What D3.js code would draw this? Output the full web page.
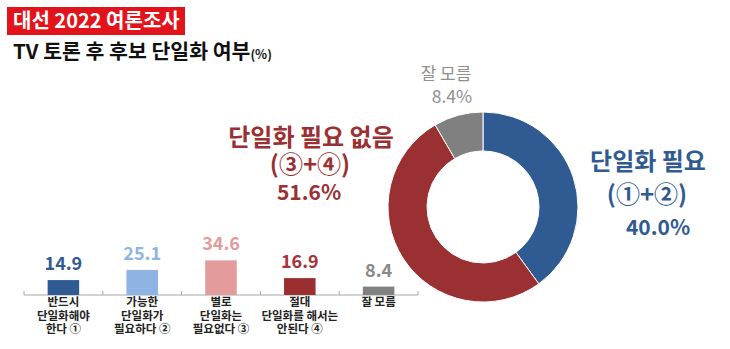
<!DOCTYPE html>
<html>
<head>
<meta charset="utf-8">
<script src="https://cdn.jsdelivr.net/npm/d3@7"></script>
<style>
  html, body { margin: 0; padding: 0; background: #fff; }
  svg { display: block; font-family: "Noto Sans CJK KR", "Noto Sans", sans-serif; }
</style>
</head>
<body>
<svg id="chart" width="730" height="349"></svg>
<script>
// Detailed answers (bar chart)
const categories = [
  ["반드시", "단일화해야", "한다 ①"],
  ["가능한", "단일화가", "필요하다 ②"],
  ["별로", "단일화는", "필요없다 ③"],
  ["절대", "단일화를 해서는", "안된다 ④"],
  ["잘 모름"]
];
const values = [14.9, 25.1, 34.6, 16.9, 8.4];
const barColors = ["#2f5a92", "#8db4e3", "#e39b9c", "#9b2f30", "#808080"];
const labelColors = ["#2f5a92", "#8db4e3", "#e39b9c", "#a83236", "#888888"];

// Grouped answers (donut)
const groupNames = ["단일화 필요", "단일화 필요 없음", "잘 모름"];
const groupSubs = ["(①+②)", "(③+④)", ""];
const groupValues = [40.0, 51.6, 8.4];
const groupColors = ["#2f5a92", "#9b3033", "#808080"];

const svg = d3.select("#chart");

// Header
svg.append("rect").attr("x", 7).attr("y", 7).attr("width", 178).attr("height", 28).attr("fill", "#e3131b");
svg.append("text").attr("x", 13).attr("y", 28).attr("fill", "#fff")
  .attr("font-size", 20).attr("font-weight", 700).text("대선 2022 여론조사");
const sub = svg.append("text").attr("x", 13).attr("y", 59).attr("fill", "#111")
  .attr("font-size", 20.5).attr("font-weight", 700);
sub.append("tspan").text("TV 토론 후 후보 단일화 여부");
sub.append("tspan").attr("font-size", 12.5).text("(%)");

// Bar chart
const baseY = 295;
const x = d3.scaleBand().domain(d3.range(values.length)).range([24, 418]).paddingInner(0.6).paddingOuter(0.3);
const y = d3.scaleLinear().domain([0, 40]).range([baseY, baseY - 40]);

const axis = svg.append("g");
axis.append("line").attr("x1", 24).attr("x2", 418).attr("y1", baseY).attr("y2", baseY)
  .attr("stroke", "#a6a6a6").attr("stroke-width", 1);
const tickXs = d3.range(values.length + 1).map(i => 24 + i * (394 / values.length));
axis.selectAll("line.tick").data(tickXs).join("line").attr("class", "tick")
  .attr("x1", d => d).attr("x2", d => d).attr("y1", baseY - 4).attr("y2", baseY)
  .attr("stroke", "#a6a6a6");

svg.selectAll("rect.bar").data(values).join("rect").attr("class", "bar")
  .attr("x", (d, i) => x(i)).attr("width", x.bandwidth())
  .attr("y", d => y(d)).attr("height", d => baseY - y(d))
  .attr("fill", (d, i) => barColors[i]);

svg.selectAll("text.val").data(values).join("text").attr("class", "val")
  .attr("x", (d, i) => x(i) + x.bandwidth() / 2).attr("y", d => y(d) - 10)
  .attr("text-anchor", "middle").attr("font-size", 18).attr("font-weight", 700)
  .attr("fill", (d, i) => labelColors[i]).text(d => d.toFixed(1));

const catG = svg.selectAll("text.cat").data(categories).join("text").attr("class", "cat")
  .attr("text-anchor", "middle").attr("font-size", 11.5).attr("font-weight", 700).attr("fill", "#222");
catG.selectAll("tspan").data((d, i) => d.map(t => ({ t, i }))).join("tspan")
  .attr("x", d => x(d.i) + x.bandwidth() / 2)
  .attr("y", (d, j) => 306 + j * 13.5)
  .text(d => d.t);

// Donut
const cx = 483, cy = 207, rOuter = 95, rInner = 56;
const pie = d3.pie().sort(null).value(d => d);
const arc = d3.arc().innerRadius(rInner).outerRadius(rOuter);
svg.append("g").attr("transform", `translate(${cx},${cy})`)
  .selectAll("path").data(pie(groupValues)).join("path")
  .attr("d", arc).attr("fill", (d, i) => groupColors[i])
  .attr("stroke", "#fff").attr("stroke-width", 1);

// Donut labels
const fmt = v => v.toFixed(1) + "%";
function groupLabel(i, xPos, ys, sizes, weight, color) {
  const lines = [groupNames[i], groupSubs[i], fmt(groupValues[i])].filter(s => s !== "");
  lines.forEach((t, j) => {
    svg.append("text").attr("x", xPos[j]).attr("y", ys[j]).attr("text-anchor", "middle")
      .attr("font-size", sizes[j]).attr("font-weight", weight).attr("fill", color).text(t);
  });
}
groupLabel(0, [648, 647, 658], [170, 203, 235], [24, 24, 21], 700, "#2f5a92");
groupLabel(1, [311, 310, 309], [146, 173, 200], [24, 24, 21], 700, "#9b3033");
groupLabel(2, [446, 452], [80, 103], [17, 17.5], 400, "#8f8f8f");
</script>
</body>
</html>
